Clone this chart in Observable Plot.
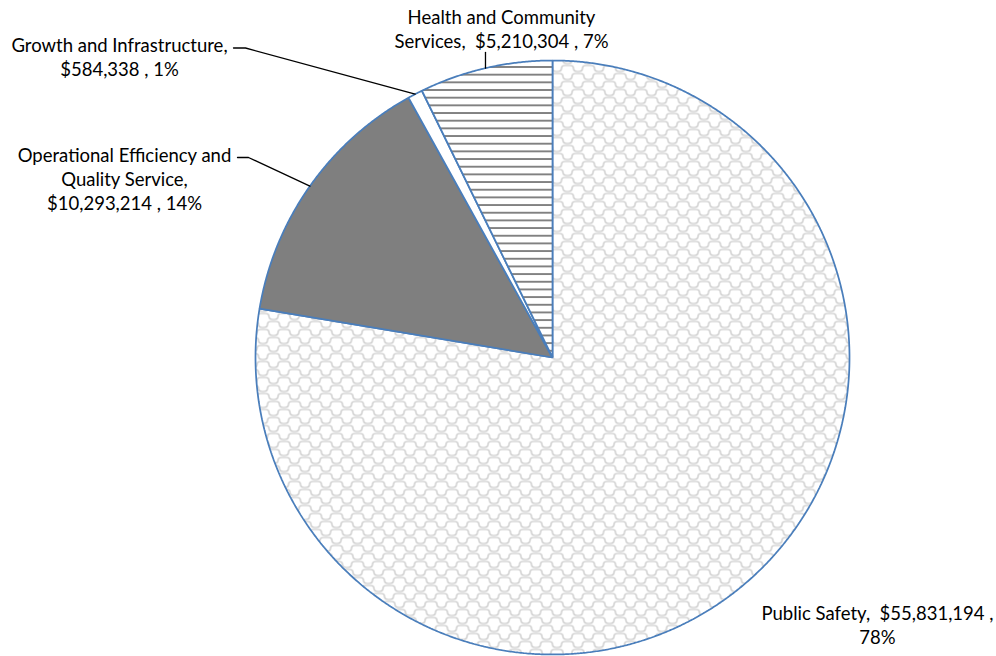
<!DOCTYPE html>
<html><head><meta charset="utf-8">
<script src="https://cdn.jsdelivr.net/npm/d3@7"></script>
<script src="https://cdn.jsdelivr.net/npm/@observablehq/plot@0.6"></script>
<style>body{margin:0;background:#fff;} #chart svg{display:block;}</style>
</head><body><div id="chart"></div>
<script>
// ---- data ----
const categories = ["Public Safety", "Operational Efficiency and Quality Service", "Growth and Infrastructure", "Health and Community Services"];
const amounts = [55831194, 10293214, 584338, 5210304];
const labelTexts = [
  "Public Safety,  $55,831,194 ,\n78%",
  "Operational Efficiency and\nQuality Service,\n$10,293,214 , 14%",
  "Growth and Infrastructure,\n$584,338 , 1%",
  "Health and Community\nServices,  $5,210,304 , 7%"
];
const sliceFills = ["url(#pat-shingle)", "#7f7f7f", "#ffffff", "url(#pat-hstripe)"];

// ---- layout (pixels) ----
const W = 996, H = 656, CX = 552, CY = 357, R = 297;
const toUnit = (px, py) => [(px - CX) / R, (CY - py) / R];
const labelLayout = [
  {text: [877, 623.5], leader: []},
  {text: [124, 177.5], leader: [[237, 157], [248, 157]]},
  {text: [119, 56], leader: [[233, 47.5], [245, 47.5]]},
  {text: [501, 27.5], leader: "vertical", top: 52}
];

// ---- slices from data ----
const arcs = d3.pie().sort(null).startAngle(0).endAngle(2 * Math.PI)(amounts);
const pt = a => [Math.sin(a), Math.cos(a)];
const slices = arcs.map((a, i) => {
  const n = Math.max(2, Math.ceil((a.endAngle - a.startAngle) / 0.005));
  const ring = [[0, 0]];
  for (let k = 0; k <= n; ++k) ring.push(pt(a.startAngle + (a.endAngle - a.startAngle) * k / n));
  ring.push([0, 0]);
  return {type: "Feature", properties: {name: categories[i]}, geometry: {type: "Polygon", coordinates: [ring]}};
});

const labels = arcs.map((a, i) => {
  const [x, y] = toUnit(...labelLayout[i].text);
  return {name: categories[i], x, y, text: labelTexts[i]};
});

const leaders = [];
arcs.forEach((a, i) => {
  const L = labelLayout[i];
  if (!L.leader || (Array.isArray(L.leader) && L.leader.length === 0)) return;
  const mid = (a.startAngle + a.endAngle) / 2;
  const edge = pt(mid);
  let pts;
  if (L.leader === "vertical") {
    pts = [[edge[0], (CY - L.top) / R], edge];
  } else {
    pts = [...L.leader.map(p => toUnit(...p)), edge];
  }
  pts.forEach(p => leaders.push({name: categories[i], x: p[0], y: p[1]}));
});

const chart = Plot.plot({
  width: W, height: H,
  margin: 0,
  style: {fontFamily: "Lato, 'Noto Sans', sans-serif", background: "#fff", color: "#000"},
  projection: {
    type: "reflect-y",
    inset: 0,
    domain: {type: "MultiPoint", coordinates: [toUnit(0, 0), toUnit(W, H)]}
  },
  color: {type: "ordinal", domain: categories, range: sliceFills},
  marks: [
    Plot.geo(slices, {fill: d => d.properties.name, stroke: "#4a7ebb", strokeWidth: 1.75, strokeLinejoin: "miter"}),
    Plot.line(leaders, {x: "x", y: "y", z: "name", stroke: "#000", strokeWidth: 1.3}),
    Plot.text(labels, {x: "x", y: "y", text: "text", fontSize: 18.5, lineHeight: 1.3, lineAnchor: "middle", textAnchor: "middle", fill: "#000"})
  ]
});

const svg = d3.select(chart.tagName.toLowerCase() === "svg" ? chart : chart.querySelector("svg"));
svg.insert("defs", ":first-child").html(`
  <pattern id="pat-hstripe" patternUnits="userSpaceOnUse" x="0" y="${CY % 7.67}" width="16" height="7.67">
    <rect width="16" height="7.67" fill="#fff"/>
    <rect y="0" width="16" height="1.9" fill="#808080"/>
  </pattern>
  <pattern id="pat-shingle" patternUnits="userSpaceOnUse" width="21" height="16">
    <rect width="21" height="16" fill="#fff"/>
    <path d="M0,1 H3 Q6,1 6,4 Q6,7 10,7 H11 Q15,7 15,4 Q15,1 18,1 H21
             M-10.5,9 H-7.5 Q-4.5,9 -4.5,12 Q-4.5,15 -0.5,15 H0.5 Q4.5,15 4.5,12 Q4.5,9 7.5,9 H13.5 Q16.5,9 16.5,12 Q16.5,15 20.5,15 H21.5"
      fill="none" stroke="#c2c2c2" stroke-width="1.15"/>
  </pattern>
`);
document.getElementById("chart").append(chart);
</script>
</body></html>
